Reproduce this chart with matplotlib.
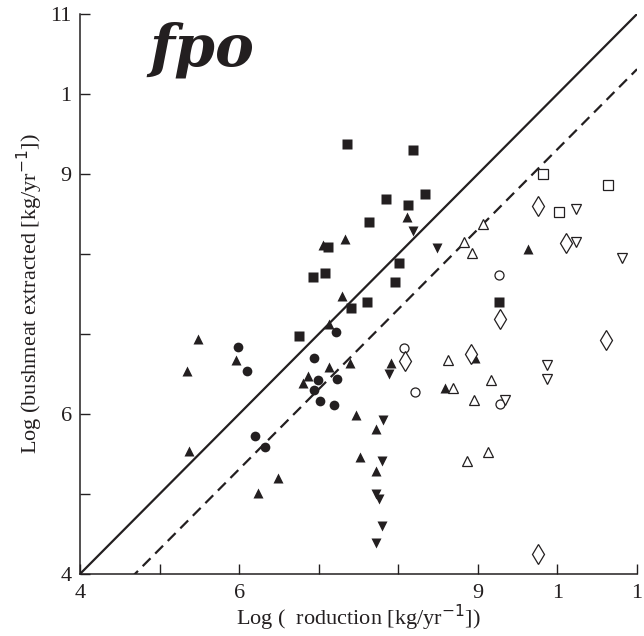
import numpy as np
import matplotlib.pyplot as plt

# donnees (log production, log extraction)
sq_fill_x = [7.35, 8.18, 7.84, 8.12, 8.33, 7.63, 7.12, 8.01, 7.96, 7.61, 7.40, 6.93, 7.08, 6.75, 9.26]
sq_fill_y = [9.38, 9.30, 8.69, 8.61, 8.75, 8.40, 8.09, 7.89, 7.65, 7.40, 7.33, 7.71, 7.76, 6.98, 7.40]

tri_fill_x = [7.05, 7.33, 8.11, 7.29, 9.63, 5.48, 5.34, 5.96, 5.37, 6.49, 6.24, 6.86, 6.80,
              7.13, 7.13, 7.39, 7.91, 8.59, 8.96, 7.47, 7.72, 7.52, 7.72]
tri_fill_y = [8.11, 8.19, 8.46, 7.48, 8.06, 6.94, 6.54, 6.68, 5.54, 5.20, 5.01, 6.48, 6.39,
              7.13, 6.59, 6.64, 6.64, 6.33, 6.70, 5.99, 5.81, 5.46, 5.29]

dtri_fill_x = [8.18, 8.48, 7.88, 7.81, 7.79, 7.72, 7.76, 7.79, 7.72]
dtri_fill_y = [8.29, 8.08, 6.50, 5.93, 5.41, 5.00, 4.94, 4.60, 4.39]

circ_fill_x = [5.98, 6.10, 6.20, 6.32, 6.94, 6.99, 6.94, 7.02, 7.22, 7.23, 7.19]
circ_fill_y = [6.84, 6.54, 5.73, 5.59, 6.70, 6.43, 6.30, 6.16, 7.03, 6.44, 6.11]

circ_open_x = [8.07, 8.21, 9.28, 9.26]
circ_open_y = [6.83, 6.28, 6.13, 7.74]

diam_open_x = [8.08, 8.91, 10.61, 9.75, 9.75, 10.11, 9.28]
diam_open_y = [6.66, 6.75, 6.93, 4.25, 8.60, 8.14, 7.19]

tri_open_x = [9.06, 8.82, 8.92, 8.62, 8.69, 8.95, 9.16, 8.86, 9.13]
tri_open_y = [8.38, 8.15, 8.01, 6.68, 6.33, 6.18, 6.43, 5.41, 5.53]

dtri_open_x = [10.23, 10.23, 10.81, 9.87, 9.87, 9.34]
dtri_open_y = [8.56, 8.15, 7.95, 6.61, 6.44, 6.18]

sq_open_x = [9.82, 10.63, 10.02]
sq_open_y = [9.00, 8.86, 8.53]

# droites: y = x et droite decalee
decalage = 0.69

ticks = [4, 5, 6, 7, 8, 9, 10, 11]
xtick_labels = ['4', '', '6', '', '', '9', '1', '1']
ytick_labels = ['4', '', '6', '', '', '9', '1', '11']

noir = '#231f20'
plt.rcParams['font.family'] = ['Liberation Serif', 'DejaVu Serif']

fig = plt.figure(figsize=(6.44, 6.36), dpi=100)
ax = fig.add_axes([0.1242, 0.0975, 0.865, 0.8805])

xl = np.array([4, 11])
ax.plot(xl, xl, '-', color=noir, lw=1.6)
ax.plot(xl, xl - decalage, '--', color=noir, lw=1.6, dashes=(5, 3))

ax.plot(sq_fill_x, sq_fill_y, 's', color=noir, ms=6.5, mec='none')
ax.plot(tri_fill_x, tri_fill_y, '^', color=noir, ms=7.5, mec='none')
ax.plot(dtri_fill_x, dtri_fill_y, 'v', color=noir, ms=7.5, mec='none')
ax.plot(circ_fill_x, circ_fill_y, 'o', color=noir, ms=7, mec='none')
ax.plot(circ_open_x, circ_open_y, 'o', mfc='white', mec=noir, ms=6.5, mew=0.9)
ax.plot(diam_open_x, diam_open_y, 'd', mfc='white', mec=noir, ms=10, mew=0.9)
ax.plot(tri_open_x, tri_open_y, '^', mfc='white', mec=noir, ms=7.5, mew=0.9)
ax.plot(dtri_open_x, dtri_open_y, 'v', mfc='white', mec=noir, ms=7.5, mew=0.9)
ax.plot(sq_open_x, sq_open_y, 's', mfc='white', mec=noir, ms=6.5, mew=0.9)

ax.set_xlim(4, 11)
ax.set_ylim(4, 11)
ax.set_xticks(ticks)
ax.set_xticklabels(xtick_labels)
ax.set_yticks(ticks)
ax.set_yticklabels(ytick_labels)
ax.tick_params(direction='in', length=7, width=1, colors=noir, labelsize=16)
ax.tick_params(axis='x', pad=7)
ax.tick_params(axis='y', pad=6)
ax.spines['top'].set_visible(False)
ax.spines['right'].set_visible(False)
for s in ['left', 'bottom']:
    ax.spines[s].set_color(noir)
    ax.spines[s].set_linewidth(1.1)

ax.set_xlabel('Log (  roduction [kg/yr$^{-1}$])', fontsize=16, color=noir, labelpad=0)
ax.set_ylabel('Log (bushmeat extracted [kg/yr$^{-1}$])', fontsize=16, color=noir, labelpad=4)

ax.text(5.53, 10.55, 'fpo', fontsize=42, fontweight='bold', fontstyle='italic',
        family='DejaVu Serif', ha='center', va='center', color=noir)

fig.savefig('out.png', dpi=100)
